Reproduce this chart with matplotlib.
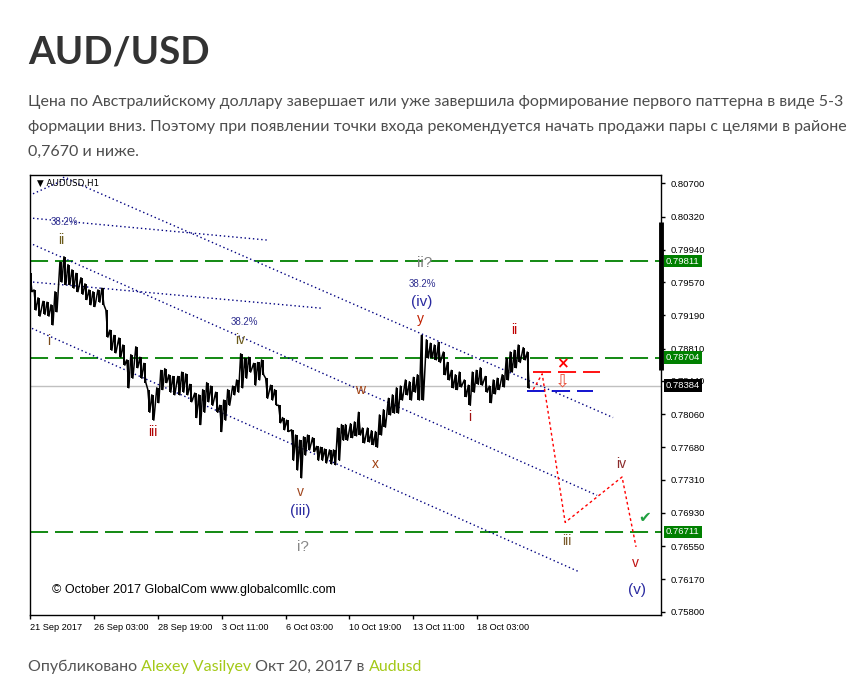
import numpy as np
import matplotlib
matplotlib.use('Agg')
import matplotlib.pyplot as plt
import matplotlib.transforms as mtransforms

plt.rcParams['lines.scale_dashes'] = False

# price columns (H1 bar index, high, low)
bars = [0, 4, 8, 13, 17, 21, 25, 30, 34, 38, 42, 46, 51, 55, 59, 63, 68, 72, 76, 80,
        84, 89, 93, 97, 101, 106, 110, 114, 118, 122, 127, 131, 135, 139, 143, 148, 152, 156, 160, 165,
        169, 173, 177, 181, 186, 190, 194, 198, 203, 207, 211, 215, 219, 224, 228, 232, 236, 241, 245, 249,
        253, 257, 262, 266, 270, 274, 278, 283, 287, 291, 295, 300, 304, 308, 312, 316, 321, 325, 329, 333,
        338, 342, 346, 350, 354, 359, 363, 367, 371, 376, 380, 384, 388, 392, 397, 401, 405, 409, 414, 418,
        422, 426, 430, 435, 439, 443, 447, 451, 456, 460, 464, 468, 473, 477, 481, 485, 489, 494, 498]
hi = [0.7967, 0.7948, 0.7939, 0.7935, 0.7934, 0.7931, 0.7946, 0.7980, 0.7986, 0.7977,
      0.7971, 0.7967, 0.7962, 0.7955, 0.7948, 0.7946, 0.7948, 0.7950, 0.7925, 0.7902,
      0.7896, 0.7893, 0.7885, 0.7868, 0.7874, 0.7883, 0.7871, 0.7864, 0.7834, 0.7828,
      0.7836, 0.7856, 0.7858, 0.7851, 0.7849, 0.7849, 0.7854, 0.7852, 0.7840, 0.7830,
      0.7828, 0.7834, 0.7842, 0.7838, 0.7831, 0.7816, 0.7822, 0.7834, 0.7838, 0.7845,
      0.7875, 0.7870, 0.7871, 0.7864, 0.7865, 0.7868, 0.7847, 0.7839, 0.7834, 0.7816,
      0.7802, 0.7799, 0.7788, 0.7782, 0.7776, 0.7780, 0.7782, 0.7779, 0.7769, 0.7768,
      0.7766, 0.7765, 0.7765, 0.7790, 0.7794, 0.7794, 0.7795, 0.7797, 0.7808, 0.7790,
      0.7790, 0.7787, 0.7786, 0.7805, 0.7811, 0.7824, 0.7828, 0.7836, 0.7838, 0.7845,
      0.7843, 0.7848, 0.7851, 0.7896, 0.7891, 0.7887, 0.7885, 0.7888, 0.7877, 0.7865,
      0.7856, 0.7851, 0.7854, 0.7845, 0.7839, 0.7854, 0.7856, 0.7859, 0.7849, 0.7838,
      0.7845, 0.7847, 0.7851, 0.7870, 0.7877, 0.7879, 0.7885, 0.7882, 0.7877]
lo = [0.7946, 0.7925, 0.7918, 0.7920, 0.7918, 0.7908, 0.7923, 0.7957, 0.7954, 0.7954,
      0.7950, 0.7946, 0.7943, 0.7937, 0.7931, 0.7929, 0.7934, 0.7931, 0.7894, 0.7879,
      0.7876, 0.7871, 0.7862, 0.7836, 0.7847, 0.7859, 0.7847, 0.7842, 0.7808, 0.7799,
      0.7819, 0.7834, 0.7842, 0.7831, 0.7828, 0.7828, 0.7831, 0.7828, 0.7820, 0.7802,
      0.7794, 0.7808, 0.7820, 0.7816, 0.7808, 0.7786, 0.7799, 0.7816, 0.7828, 0.7831,
      0.7836, 0.7847, 0.7854, 0.7839, 0.7845, 0.7851, 0.7824, 0.7822, 0.7816, 0.7796,
      0.7788, 0.7786, 0.7753, 0.7742, 0.7733, 0.7759, 0.7765, 0.7763, 0.7753, 0.7753,
      0.7750, 0.7749, 0.7748, 0.7753, 0.7776, 0.7776, 0.7779, 0.7781, 0.7782, 0.7773,
      0.7774, 0.7771, 0.7768, 0.7782, 0.7791, 0.7805, 0.7807, 0.7807, 0.7822, 0.7828,
      0.7822, 0.7831, 0.7822, 0.7822, 0.7870, 0.7870, 0.7868, 0.7865, 0.7851, 0.7845,
      0.7836, 0.7834, 0.7837, 0.7826, 0.7816, 0.7831, 0.7840, 0.7839, 0.7831, 0.7819,
      0.7829, 0.7834, 0.7837, 0.7845, 0.7854, 0.7859, 0.7865, 0.7868, 0.7836]
last_price = 0.78384

# levels
green_levels = [0.79811, 0.78704, 0.76711]
ytick_vals = [0.80700, 0.80320, 0.79940, 0.79570, 0.79190, 0.78810, 0.78440,
              0.78060, 0.77680, 0.77310, 0.76930, 0.76550, 0.76170, 0.75800]
xtick_bars = [0, 64, 128, 192, 256, 320, 384, 448]
xtick_labels = ['21 Sep 2017', '26 Sep 03:00', '28 Sep 19:00', '3 Oct 11:00',
                '6 Oct 03:00', '10 Oct 19:00', '13 Oct 11:00', '18 Oct 03:00']

# dotted trend / fib lines: (bar0, price0, bar1, price1)
trend_lines = [
    (3, 0.8058, 38, 0.8076),
    (33, 0.8077, 584, 0.7802),
    (3, 0.8030, 238, 0.8005),
    (3, 0.8000, 568, 0.7713),
    (3, 0.7957, 293, 0.7927),
    (2, 0.7904, 551, 0.7625),
]

# forecast path
fc_bars = [504, 513, 536, 593, 607]
fc_prices = [0.7834, 0.7852, 0.7682, 0.7734, 0.7654]

# wave labels
wave_text = ['ii', 'i', 'iv', '38.2%', '38.2%', 'iii', 'v', '(iii)', 'i?', 'ii?',
             '38.2%', '(iv)', 'y', 'w', 'x', 'i', 'ii', 'iii', 'iv', 'v', '(v)']
wave_bar = [31, 19, 211, 215, 34, 123, 271, 271, 273, 395,
            393, 392, 391, 331, 346, 440, 485, 538, 592, 606, 608]
wave_price = [0.8005, 0.7890, 0.7891, 0.7911, 0.8026, 0.7786, 0.7717, 0.7695, 0.7654, 0.7979,
              0.7955, 0.7934, 0.7915, 0.7834, 0.7749, 0.7803, 0.7902, 0.7661, 0.7749, 0.7636, 0.7605]
wave_color = ['#6b5a1a', '#7a4a1a', '#6b5a1a', '#303090', '#303090', '#b00000', '#a0461e', '#2a2aa0',
              '#888888', '#7f7f7f', '#303090', '#2a2aa0', '#c02000', '#a04010', '#a04010', '#a01010',
              '#c00000', '#7a5a2a', '#8b2a2a', '#c01010', '#2a2aa0']
wave_size = [10, 10, 10, 7, 7, 10, 10, 11, 11, 11, 7, 11, 10, 10, 10, 10, 10, 10, 10, 10, 11]

W, H = 868, 694
fig = plt.figure(figsize=(W / 100, H / 100), dpi=100)
fig.patch.set_facecolor('white')

ax = fig.add_axes([30 / W, (H - 615) / H, 631 / W, 440 / H])
ax.set_xlim(1, 632)
ax.set_ylim(0.75761, 0.80795)

mt4 = ['Liberation Sans', 'DejaVu Sans']

# horizontal levels
ax.axhline(last_price, color='#c0c0c0', lw=1, zorder=1)
for lv in green_levels:
    ax.axhline(lv, color='#008000', lw=1.3, dashes=(13, 5), zorder=1)

# trend lines
for b0, p0, b1, p1 in trend_lines:
    ax.plot([b0, b1], [p0, p1], color='#000080', lw=1, dashes=(1, 2), zorder=2)

# price
bars_a = np.array(bars)
xs = np.ravel(np.column_stack([bars_a, bars_a + 2]))
ys = np.ravel(np.column_stack([hi, lo]))
ax.vlines(bars_a + 1, lo, hi, color='black', lw=1.4, zorder=3)
ax.plot(xs, ys, color='black', lw=1.1, zorder=3)

# stop / entry lines and forecast
ax.plot([504, 571], [0.7854, 0.7854], color='#ff0000', lw=1.3, dashes=(13, 5), zorder=3)
ax.plot([498, 564], [0.7832, 0.7832], color='#0000cc', lw=1.3, dashes=(13, 5), zorder=3)
ax.plot(fc_bars, fc_prices, color='#ff0000', lw=1, dashes=(2, 2), zorder=3)
ax.text(533, 0.7863, '×', color='#ff0000', fontsize=11, weight='bold', ha='center', va='center')
ax.text(533, 0.7843, '⇩', color='#e8503a', fontsize=13, ha='center', va='center', family='DejaVu Sans')
ax.text(616, 0.7688, '✔', color='#20a040', fontsize=11, ha='center', va='center', family='DejaVu Sans')

for t, b, p, c, s in zip(wave_text, wave_bar, wave_price, wave_color, wave_size):
    ax.text(b, p, t, color=c, fontsize=s, ha='center', va='center', family=mt4)

ax.text(0.011, 0.982, '▼ AUDUSD,H1', transform=ax.transAxes, fontsize=6.3,
        ha='left', va='center', family=['DejaVu Sans'])
ax.text(22, 0.7605, '© October 2017 GlobalCom www.globalcomllc.com', fontsize=9,
        ha='left', va='center', family=mt4)

# axes styling
for sp in ax.spines.values():
    sp.set_color('black')
    sp.set_linewidth(1)
ax.yaxis.tick_right()
ax.set_yticks(ytick_vals)
ax.set_yticklabels(['%.5f' % v for v in ytick_vals], fontsize=6.8, family=mt4)
ax.set_xticks(xtick_bars)
ax.set_xticklabels(xtick_labels, fontsize=6.6, family=mt4, ha='left')
ax.tick_params(axis='y', direction='out', length=3, width=1, pad=4)
ax.tick_params(axis='x', direction='out', length=3, width=1, pad=3)

# right side price boxes
tr = mtransforms.blended_transform_factory(ax.transAxes, ax.transData)
for lv in green_levels:
    ax.text(1.008, lv, '%.5f' % lv, transform=tr, fontsize=6.8, color='white', family=mt4,
            ha='left', va='center', clip_on=False, zorder=5,
            bbox=dict(boxstyle='square,pad=0.2', fc='#008000', ec='none'))
ax.text(1.008, last_price, '%.5f' % last_price, transform=tr, fontsize=6.8, color='white', family=mt4,
        ha='left', va='center', clip_on=False, zorder=5,
        bbox=dict(boxstyle='square,pad=0.2', fc='black', ec='none'))
ax.plot([1.0, 1.0], [0.80257, 0.78564], transform=tr, color='black', lw=3.5,
        solid_capstyle='butt', clip_on=False, zorder=6)

# page text
page = ['Lato', 'DejaVu Sans']
fig.text(28 / W, 1 - 63 / H, 'AUD/USD', fontsize=27.7, weight='bold', color='#333333',
         family=page, va='baseline')
para = ['Цена по Австралийскому доллару завершает или уже завершила формирование первого паттерна в виде 5-3',
        'формации вниз. Поэтому при появлении точки входа рекомендуется начать продажи пары с целями в районе',
        '0,7670 и ниже.']
for k, line in enumerate(para):
    fig.text(28 / W, 1 - (106 + 25 * k) / H, line, fontsize=11.5, color='#4d4d4d',
             family=page, va='baseline')

fig.canvas.draw()
r = fig.canvas.get_renderer()
x = 28 / W
for seg, col in [('Опубликовано ', '#555555'), ('Alexey Vasilyev', '#a4c918'),
                 (' Окт 20, 2017 в ', '#555555'), ('Audusd', '#a4c918')]:
    t = fig.text(x, 1 - 671 / H, seg, fontsize=11.5, color=col, family=page, va='baseline')
    x += t.get_window_extent(renderer=r).width / W

fig.savefig('out.png', dpi=100)
